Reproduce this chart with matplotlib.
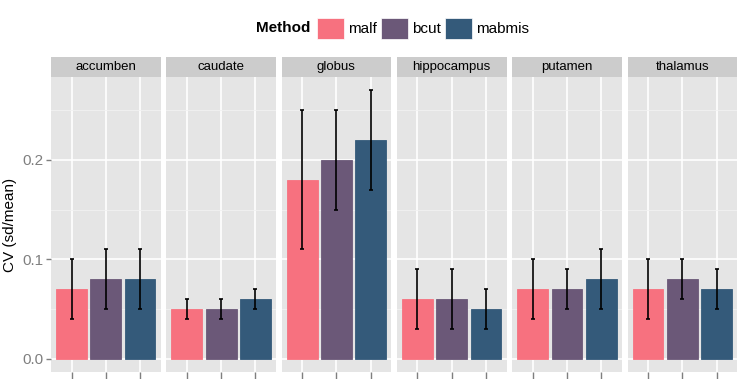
import matplotlib
matplotlib.use("Agg")
import matplotlib.pyplot as plt
from matplotlib.patches import Patch

plt.rcParams['font.family'] = ['Liberation Sans', 'DejaVu Sans']

# data
regions = ['accumben', 'caudate', 'globus', 'hippocampus', 'putamen', 'thalamus']
methods = ['malf', 'bcut', 'mabmis']
colors = ['#F7717F', '#6B5878', '#345A7A']

cv_malf = [0.07, 0.05, 0.18, 0.06, 0.07, 0.07]
cv_bcut = [0.08, 0.05, 0.20, 0.06, 0.07, 0.08]
cv_mabmis = [0.08, 0.06, 0.22, 0.05, 0.08, 0.07]

lo_malf = [0.04, 0.04, 0.11, 0.03, 0.04, 0.04]
lo_bcut = [0.05, 0.04, 0.15, 0.03, 0.05, 0.06]
lo_mabmis = [0.05, 0.05, 0.17, 0.03, 0.05, 0.05]

hi_malf = [0.10, 0.06, 0.25, 0.09, 0.10, 0.10]
hi_bcut = [0.11, 0.06, 0.25, 0.09, 0.09, 0.10]
hi_mabmis = [0.11, 0.07, 0.27, 0.07, 0.11, 0.09]

cv = [cv_malf, cv_bcut, cv_mabmis]
lo = [lo_malf, lo_bcut, lo_mabmis]
hi = [hi_malf, hi_bcut, hi_mabmis]

W, H = 737, 379
fig = plt.figure(figsize=(W / 100, H / 100), dpi=100)

left, pw, gap = 51, 109.6, 5.7
bottom, top = 372, 77
strip_top = 57.3

for i, reg in enumerate(regions):
    x0 = left + i * (pw + gap)
    ax = fig.add_axes([x0 / W, (H - bottom) / H, pw / W, (bottom - top) / H])
    ax.set_facecolor('#E5E5E5')
    for s in ax.spines.values():
        s.set_visible(False)
    ax.set_axisbelow(True)
    for j in range(3):
        v = cv[j][i]
        ax.bar(j + 1, v, width=0.9, color=colors[j],
               edgecolor=colors[j], linewidth=0.6, zorder=2)
        ax.errorbar(j + 1, v, yerr=[[v - lo[j][i]], [hi[j][i] - v]],
                    fmt='none', ecolor='black', elinewidth=1.2,
                    capsize=1.6, capthick=1.2, zorder=3)
    ax.set_xlim(0.4, 3.6)
    ax.set_ylim(-0.0135, 0.2835)
    ax.set_xticks([1, 2, 3])
    ax.set_xticklabels([])
    ax.set_yticks([0, 0.1, 0.2])
    ax.set_yticks([0.05, 0.15, 0.25], minor=True)
    ax.grid(which='major', color='white', linewidth=1.2)
    ax.grid(which='minor', color='#F2F2F2', linewidth=0.6)
    ax.tick_params(axis='x', which='both', length=5, width=1, color='#7F7F7F')
    ax.tick_params(axis='y', which='minor', length=0)
    if i == 0:
        ax.set_yticklabels(['0.0', '0.1', '0.2'])
        ax.tick_params(axis='y', which='major', length=3.5, width=1,
                       color='#7F7F7F', labelcolor='#7F7F7F', labelsize=11, pad=2)
        ax.set_ylabel('CV (sd/mean)', fontsize=11, labelpad=4)
    else:
        ax.set_yticklabels([])
        ax.tick_params(axis='y', which='major', length=0)

    sax = fig.add_axes([x0 / W, (H - 76.7) / H, pw / W, (76.7 - strip_top) / H])
    sax.set_facecolor('#CCCCCC')
    sax.set_xticks([])
    sax.set_yticks([])
    for s in sax.spines.values():
        s.set_visible(False)
    sax.text(0.5, 0.48, reg, ha='center', va='center', fontsize=9.5,
             transform=sax.transAxes)

handles = [Patch(facecolor=c, edgecolor='white', linewidth=0.5) for c in colors]
fig.legend(handles, methods, loc='center left', ncol=3,
           bbox_to_anchor=(317 / W, 1 - 28.5 / H), frameon=False,
           fontsize=11, handlelength=1.75, handleheight=1.75,
           handletextpad=0.25, columnspacing=0.3, borderpad=0,
           borderaxespad=0)
fig.text(310 / W, 1 - 28.5 / H, 'Method', ha='right', va='center',
         fontsize=11, fontweight='bold')

fig.savefig('out.png', dpi=100)
